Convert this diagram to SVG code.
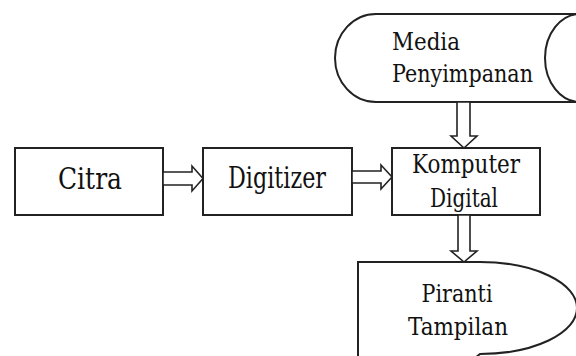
<svg xmlns="http://www.w3.org/2000/svg" width="576" height="356" viewBox="0 0 576 356">
<style>
.box{fill:#fff;stroke:#222;stroke-width:2}
.arr{fill:#fff;stroke:#222;stroke-width:1.6;stroke-linejoin:miter}
.t{font-family:'DejaVu Serif','Liberation Serif',serif;fill:#111}
</style>
<rect width="576" height="356" fill="#fff"/>
<g id="media">
<path class="box" d="M376,14 L590,14 L590,102 L376,102 A41,44 0 0 1 376,14 Z"/>
<path class="box" fill="none" d="M580,14 A35,44 0 0 0 580,102"/>
<text class="t" x="392" y="50" font-size="24" textLength="68" lengthAdjust="spacingAndGlyphs">Media</text>
<text class="t" x="392" y="82" font-size="24" textLength="141" lengthAdjust="spacingAndGlyphs">Penyimpanan</text>
</g>
<g id="citra">
<rect class="box" x="15" y="148" width="148" height="67"/>
<text class="t" x="90" y="189" font-size="30" text-anchor="middle" textLength="64" lengthAdjust="spacingAndGlyphs">Citra</text>
</g>
<g id="digitizer">
<rect class="box" x="203" y="148" width="149" height="67"/>
<text class="t" x="277" y="188" font-size="29" text-anchor="middle" textLength="98" lengthAdjust="spacingAndGlyphs">Digitizer</text>
</g>
<g id="komputer">
<rect class="box" x="392" y="148" width="148" height="67"/>
<text class="t" x="466" y="173" font-size="26" text-anchor="middle" textLength="108" lengthAdjust="spacingAndGlyphs">Komputer</text>
<text class="t" x="464" y="207" font-size="26" text-anchor="middle" textLength="68" lengthAdjust="spacingAndGlyphs">Digital</text>
</g>
<g id="piranti">
<path class="box" d="M358,362 L358,262 L480,262 A97,46 0 0 1 480,354 L470,362"/>
<text class="t" x="457" y="302" font-size="25" text-anchor="middle" textLength="71" lengthAdjust="spacingAndGlyphs">Piranti</text>
<text class="t" x="458" y="335" font-size="25" text-anchor="middle" textLength="100" lengthAdjust="spacingAndGlyphs">Tampilan</text>
</g>
<g id="connectors">
<polygon class="arr" points="163,172 192,172 192,166 203,178.5 192,191 192,185 163,185"/>
<polygon class="arr" points="352,171 381,171 381,165 392,177 381,189 381,183 352,183"/>
<polygon class="arr" points="457,102 470,102 470,136 477,136 464,148 451,136 457,136"/>
<polygon class="arr" points="458,215 470,215 470,251 477,251 464,262 451,251 458,251"/>
</g>
</svg>
